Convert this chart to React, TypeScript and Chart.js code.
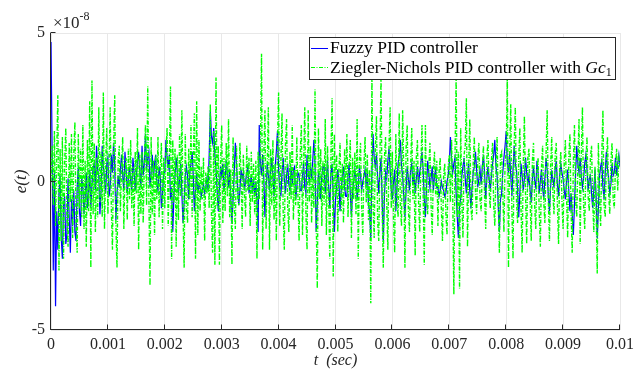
import React, { useEffect, useRef } from 'react';
import { Chart, registerables } from 'chart.js';

Chart.register(...registerables);

// sample spacing of the two error signals (seconds)
const fuzzyStep = 2e-5;
const znStep = 2e-5;

// e(t) of the fuzzy PID controller, in units of 1e-8
const fuzzyPid: number[] = [
  4.7, 1.0, -3.0, 0.3, -4.2, -1.0, -2.3, -0.4, 0.2, -1.9, -2.6, -0.8, -0.5, -2.1, -1.8, 0.1, -1.2, -2.4, -0.6, -1.5,
  -0.3, -1.7, -2.0, -0.2, 0.5, -1.0, -1.5, 0.1, -0.2, -1.1, -0.6, 0.3, -0.9, -0.4, 0.4, -0.9, -0.1, 0.5, 0.6, -0.3,
  1.2, 0.4, 0.2, -1.1, -0.3, 1.2, 0.5, 0.1, -0.4, 0.6, 0.8, -0.5, -0.2, 0.9, 0.3, 1.3, 0.6, -1.3, -0.4, 0.2,
  -0.2, 0.4, 0.9, 0.2, -0.3, 1.0, 0.4, -0.4, 0.1, 0.5, 0.0, -0.3, 0.8, 0.3, -0.3, 0.2, 0.7, 1.0, 0.3, -0.2,
  1.2, 0.2, 0.6, 1.6, 0.4, 0.8, 1.0, -0.2, 0.3, 0.9, 0.1, 0.6, 0.9, -0.1, -0.3, 0.5, 0.2, -0.9, -0.4, 0.3,
  0.3, 1.4, 0.8, 0.5, 0.9, -0.6, -0.2, -1.7, -0.5, 0.2, 0.8, 0.3, -0.4, 0.1, 0.6, -0.4, -1.4, -0.7, 0.2, 0.5,
  0.2, -0.6, 0.3, 0.6, 1.0, 0.2, -1.0, -0.3, 0.3, -0.4, -0.1, -0.2, -0.5, -0.3, -0.1, -0.4, -0.2, 0.1, -0.3, 0.9,
  2.4, 1.5, 1.3, 1.8, 0.9, 0.4, -0.3, -1.0, -0.2, 0.5, 0.2, 0.6, -0.3, 0.1, 0.7, 0.3, -0.2, 0.4, -0.6, -1.4,
  -0.6, 0.3, 1.3, 0.6, -0.2, -0.8, -0.3, 0.4, 0.1, 0.3, -0.3, 0.0, 0.3, 0.5, -0.4, -0.1, 0.2, -0.4, 0.1, -0.5,
  0.0, -0.7, -1.7, 1.9, 0.6, 0.2, 0.9, 0.1, -1.2, -0.3, 0.6, 0.2, -0.3, 0.4, 0.8, 0.2, -0.5, 0.5, 1.0, 1.7,
  0.4, -0.2, -0.5, 0.3, 0.8, 0.1, -0.4, 0.2, 0.6, -0.1, -0.3, 0.5, -0.1, 0.4, 0.5, -0.6, -0.2, 0.3, 0.2, -0.3,
  -0.3, 0.2, 0.6, -0.2, -0.4, 0.9, 0.3, 0.0, 0.5, 0.1, 0.7, 1.4, 0.6, -1.7, -0.8, 0.3, 0.0, -0.6, 0.2, 0.5,
  0.5, -0.4, 0.1, 0.7, -0.2, -0.9, 0.3, 0.6, -0.5, -1.7, -0.6, -0.2, 0.4, 0.0, -1.0, -0.3, 0.2, 0.5, -0.2, -0.5,
  -0.5, 0.2, 0.6, -0.4, -1.2, -0.3, 0.0, 0.4, 0.1, -0.6, -0.2, 0.5, 0.2, -0.3, 0.0, 0.2, 0.4, -0.2, 0.4, -0.8,
  -1.0, -1.9, 0.3, 1.6, 0.8, 0.5, 0.9, 0.2, -0.4, 0.3, 0.8, -0.6, -2.0, -0.5, 0.3, 0.1, 0.7, 1.1, 0.4, -0.3,
  -0.6, 0.0, 0.4, -1.0, -0.2, 0.6, 0.9, 1.4, 0.5, 0.2, -0.5, -1.2, -0.3, 0.5, 0.1, -0.3, 0.4, 0.6, -0.1, 0.3,
  -0.4, 0.1, 0.5, -0.1, 0.3, 0.6, 1.0, 0.4, -0.6, -1.2, -0.2, 0.7, 0.3, -0.2, 0.1, 0.5, -0.3, 0.2, 0.4, -0.2,
  -0.2, -0.5, -0.3, 0.0, -0.2, -0.3, -0.5, -0.4, 0.0, 0.2, 0.6, 1.5, 0.8, 0.3, 0.6, 0.8, -0.4, -1.2, -1.9, -0.8,
  -0.6, 0.2, 0.5, 0.8, 0.1, -0.4, 0.2, 0.6, -0.3, -0.9, -0.2, 0.3, 0.5, 1.0, 0.4, -0.2, 0.1, 0.4, -0.1, 0.5,
  0.9, 0.3, -0.6, 0.1, 0.5, 0.1, -0.3, 0.2, 0.6, 0.9, 1.4, 0.5, 0.2, -0.8, -1.7, -0.6, -0.4, 0.3, 0.8, 1.2,
  1.7, 0.6, 0.3, 0.9, 0.2, -0.5, 0.4, 1.2, 0.6, 0.4, -0.3, -1.2, -0.4, 0.6, 0.2, -0.3, 0.1, 0.8, 0.3, -0.1,
  0.2, -0.3, -0.7, 0.1, 0.5, 0.0, -0.2, 0.7, 0.3, -0.4, 0.0, 0.4, -0.2, -0.6, 0.1, 0.8, 0.4, -0.5, -1.0, -0.2,
  0.3, 0.1, -0.2, 0.4, 0.7, -0.1, -0.5, 0.2, 0.6, 0.3, 0.1, -0.3, -0.6, 0.0, 0.4, -0.3, -1.0, -0.4, -1.1, -1.8,
  -0.8, 0.3, 1.2, 0.6, 0.3, 0.8, 0.2, -0.2, 0.1, 0.6, 0.9, 0.4, -0.3, 0.1, 0.2, -0.4, -0.9, -0.3, 0.4, -0.5,
  -1.9, -0.9, 0.2, 0.5, 0.7, -0.2, -0.6, 0.3, 1.0, 0.4, 0.1, -0.4, -0.1, 0.6, 0.2, 0.3, 0.8, 0.2, 0.6, 0.9, 0.5,
];

// e(t) of the Ziegler-Nichols PID controller with Gc1, in units of 1e-8
const zieglerNichols: number[] = [
  0, 1.2, -0.8, 1.7, -1.5, 0.9, 2.9, -3.0, 1.1, -2.0, 1.5, -2.6, 0.6, 1.8, -1.2, -2.2, 1.3, -0.7, 1.6, -1.9,
  0.9, 2.0, -1.4, -2.4, 1.6, -0.9, 1.1, -1.2, 1.9, -1.6, 0.7, -2.2, 1.4, -1.0, 2.7, -2.9, 3.4, -1.1, 1.3, -1.7,
  0.8, -1.2, 2.5, -0.7, 1.0, -1.2, 3.0, -1.6, 0.6, 1.8, -1.1, 0.5, 2.5, -0.9, -2.3, 1.2, 2.9, -1.4, -2.9, 0.7,
  1.2, -1.0, 0.4, 1.5, -1.6, 0.3, 0.8, -1.3, 1.1, -0.6, 1.4, -0.9, 0.5, -1.5, 1.0, -0.4, 1.8, -2.3, 0.9, -1.1,
  1.0, -1.4, 0.6, 1.9, -0.8, 3.2, -0.5, -3.5, 1.5, -1.1, 0.7, -1.8, 0.9, -0.6, 1.5, -1.2, 0.4, 1.3, -1.6, 0.8,
  -0.9, 1.0, 1.8, -1.5, 0.6, 3.2, -2.6, 1.4, -0.7, 1.1, -2.2, 0.9, -1.3, 1.6, -0.5, 2.4, -1.0, -2.9, 1.6, -0.8,
  -1.4, 1.1, -0.6, 1.9, -1.2, 0.8, 2.3, -2.6, 2.7, -1.8, 1.4, -1.0, 0.5, -0.6, 0.8, -2.0, 0.3, -0.4, 0.5, -0.9,
  2.6, -1.1, -2.4, 1.7, -2.8, 3.5, -0.9, 1.2, -2.8, 0.6, 1.9, -1.4, 0.8, -1.0, 1.3, -0.5, 2.1, -1.2, 0.4, -2.8,
  1.5, -0.8, -1.6, 1.2, -0.5, -0.8, 1.3, 0.2, -1.6, 0.9, -0.4, -1.2, 1.2, -0.3, 0.8, -1.5, 1.0, -0.7, 0.6, -1.1,
  0.7, -2.6, 1.0, -0.6, 1.2, 4.3, -2.3, 0.9, 2.4, -1.6, 0.5, 2.5, -2.3, 1.1, -0.8, 1.4, -1.3, 0.6, -2.0, 1.2,
  3.0, -1.5, 0.7, 2.3, -1.0, -2.3, 1.2, 2.1, -0.9, -1.7, 1.0, -0.6, 1.9, -1.3, 0.4, -0.8, 1.5, -0.5, -2.0, 0.9,
  1.9, -1.8, 0.6, 2.5, -1.1, -2.3, 2.4, -0.7, 1.2, -1.4, 0.5, -0.9, 3.1, -1.2, -3.6, 1.8, -0.6, 1.1, -1.5, 0.7,
  -0.8, 2.1, -1.8, 1.2, -0.6, -2.6, 1.0, 2.8, -3.2, 1.6, -0.5, 0.9, -1.7, 0.4, 1.3, -1.0, 0.6, -1.4, 1.1, -0.3,
  1.6, -1.2, 0.5, 1.4, -1.9, 0.8, -0.6, 1.0, -1.1, 2.1, -2.6, 0.7, 1.3, -0.9, -1.8, 0.6, 1.5, -0.7, 0.9, -1.3,
  0.4, -4.1, 3.6, -0.8, -1.9, 1.1, 2.2, -1.3, -2.0, 0.6, 3.6, -1.0, -2.9, 0.8, 1.5, -0.7, -2.3, 1.2, 2.5, -0.9,
  1.0, -1.3, -2.4, 1.6, -0.6, -1.2, 2.3, -0.8, -1.5, 2.4, 0.3, -2.9, 1.1, 1.9, -0.9, -1.7, 0.5, 1.8, -0.6, 0.7,
  -2.5, 0.8, 1.4, -0.7, -1.7, 0.6, 1.9, -0.4, -2.8, 1.9, -0.6, -1.1, 0.5, 1.3, -0.8, -1.8, 0.4, 1.0, -0.5, 0.7,
  -1.5, 0.3, 0.8, -0.9, -2.0, 0.2, 0.6, -1.1, -1.8, 0.5, 0.9, -0.7, 1.4, -0.5, -3.8, 0.8, 3.5, -1.2, 1.0, -3.6,
  1.8, -0.7, -1.9, 0.9, 1.2, 2.8, -2.2, 0.5, 2.1, -0.9, -1.3, 0.6, 1.5, -0.4, -1.1, 0.7, 1.3, -0.6, -1.0, 0.4,
  1.2, -0.5, -1.6, 0.8, 1.4, -0.3, -0.9, 0.7, 1.3, -0.8, -1.5, 0.4, 1.5, -0.6, -2.4, 0.9, 1.0, -0.4, -1.7, 0.6,
  1.0, 3.5, -2.9, 0.9, 2.6, -1.0, -2.6, 1.2, 2.5, -0.6, -1.4, 0.8, 1.8, -0.9, -2.4, 0.6, 2.2, -0.5, -2.1, 0.8,
  1.1, -0.6, -2.0, 0.7, 1.3, -0.8, -1.6, 0.4, 0.8, -1.0, -2.2, 0.5, 1.2, -0.7, -1.4, 0.9, 2.4, -0.6, -2.0, 0.5,
  1.5, -0.4, -1.1, 0.9, 1.3, -0.8, -2.1, 0.5, 1.0, -0.7, -1.6, 0.6, 1.4, -0.5, -1.9, 0.8, 1.6, -1.0, -2.4, 0.6,
  1.9, -0.6, -1.2, 0.7, 2.1, -2.1, 0.9, 2.5, -0.8, -1.6, 0.6, 1.5, -0.5, -1.0, 0.8, 1.2, -0.7, -1.7, 0.5, -0.9,
  -3.1, 1.3, -0.5, -1.5, 0.9, 2.4, -0.8, -1.2, 0.6, 1.5, -0.4, -1.1, 0.7, 1.3, -0.6, -0.9, 0.5, 1.1, -0.3, 0.8, 0.6,
];

const xTicks = [0, 0.001, 0.002, 0.003, 0.004, 0.005, 0.006, 0.007, 0.008, 0.009, 0.01];
const xTickLabels = ['0', '0.001', '0.002', '0.003', '0.004', '0.005', '0.006', '0.007', '0.008', '0.009', '0.01'];
const yTicks = [-5, 0, 5];
const yTickLabels = ['-5', '0', '5'];
const yExponent = '-8';
const seriesNames = ['Fuzzy PID controller', 'Ziegler-Nichols PID controller with '];

const SERIF = '"Liberation Serif", "Times New Roman", serif';
const AXIS_COLOR = '#262626';
const BLUE = '#0000ff';
const GREEN = '#00ff00';
const GREEN_DASH = [4, 1.5, 1, 1.5];

const toPoints = (vals: number[], step: number) => vals.map((v, i) => ({ x: i * step, y: v }));

const overlayPlugin = {
  id: 'matlabOverlay',
  afterDraw(chart: any) {
    const { ctx, chartArea: a, scales } = chart;
    const xs = scales.x;
    const ys = scales.y;
    ctx.save();

    // axis lines
    ctx.strokeStyle = AXIS_COLOR;
    ctx.lineWidth = 1;
    ctx.setLineDash([]);
    ctx.beginPath();
    const lx = Math.round(a.left) - 0.5;
    const by = Math.round(a.bottom) - 0.5;
    ctx.moveTo(lx, Math.round(a.top));
    ctx.lineTo(lx, by);
    ctx.lineTo(Math.round(a.right), by);
    // inward tick marks
    xTicks.forEach((v) => {
      const px = Math.round(xs.getPixelForValue(v)) - 0.5;
      ctx.moveTo(px, by);
      ctx.lineTo(px, by - 5);
    });
    yTicks.forEach((v) => {
      const py = Math.round(ys.getPixelForValue(v)) - 0.5;
      ctx.moveTo(lx, py);
      ctx.lineTo(lx + 5, py);
    });
    ctx.stroke();

    // exponent label
    ctx.fillStyle = AXIS_COLOR;
    ctx.textAlign = 'left';
    ctx.textBaseline = 'alphabetic';
    ctx.font = `17px ${SERIF}`;
    const ex0 = a.left + 2;
    ctx.fillText('\u00d710', ex0, 28);
    const w10 = ctx.measureText('\u00d710').width;
    ctx.font = `12px ${SERIF}`;
    ctx.fillText(yExponent, ex0 + w10, 20);

    // x axis title: t (sec)
    ctx.font = `italic 16px ${SERIF}`;
    const wt = ctx.measureText('t').width;
    const ws = ctx.measureText('(sec)').width;
    const gap = 8;
    const cx = (a.left + a.right) / 2;
    const sx = cx - (wt + gap + ws) / 2;
    ctx.fillText('t', sx, 365);
    ctx.fillText('(sec)', sx + wt + gap, 365);

    // y axis title: e(t)
    ctx.save();
    ctx.translate(25.5, (a.top + a.bottom) / 2);
    ctx.rotate(-Math.PI / 2);
    ctx.textAlign = 'center';
    ctx.font = `italic 17px ${SERIF}`;
    ctx.fillText('e(t)', 0, 0);
    ctx.restore();

    // legend
    const LF = 17.5;
    ctx.font = `${LF}px ${SERIF}`;
    const w1 = ctx.measureText(seriesNames[0]).width;
    const w2a = ctx.measureText(seriesNames[1]).width;
    ctx.font = `italic ${LF}px ${SERIF}`;
    const wGc = ctx.measureText('Gc').width;
    ctx.font = `12px ${SERIF}`;
    const wSub = ctx.measureText('1').width;
    const w2 = w2a + wGc + wSub;
    const textW = Math.max(w1, w2);
    const boxRight = Math.round(a.right) - 5;
    const boxLeft = Math.round(boxRight - (textW + 21 + 3));
    const boxTop = Math.round(a.top) + 4;
    const boxH = 42;
    ctx.fillStyle = '#ffffff';
    ctx.fillRect(boxLeft, boxTop, boxRight - boxLeft, boxH);
    ctx.strokeStyle = AXIS_COLOR;
    ctx.lineWidth = 1;
    ctx.strokeRect(boxLeft + 0.5, boxTop + 0.5, boxRight - boxLeft, boxH);

    const row1 = boxTop + 11.5;
    const row2 = boxTop + 30.5;
    ctx.beginPath();
    ctx.strokeStyle = BLUE;
    ctx.moveTo(boxLeft + 2, row1);
    ctx.lineTo(boxLeft + 19, row1);
    ctx.stroke();
    ctx.beginPath();
    ctx.strokeStyle = GREEN;
    ctx.setLineDash(GREEN_DASH);
    ctx.moveTo(boxLeft + 2, row2);
    ctx.lineTo(boxLeft + 19, row2);
    ctx.stroke();
    ctx.setLineDash([]);

    const tx = boxLeft + 21;
    ctx.fillStyle = '#000000';
    ctx.font = `${LF}px ${SERIF}`;
    ctx.fillText(seriesNames[0], tx, boxTop + 16);
    ctx.fillText(seriesNames[1], tx, boxTop + 35.5);
    ctx.font = `italic ${LF}px ${SERIF}`;
    ctx.fillText('Gc', tx + w2a, boxTop + 35.5);
    ctx.font = `12px ${SERIF}`;
    ctx.fillText('1', tx + w2a + wGc, boxTop + 38.5);

    ctx.restore();
  },
};

export default function App() {
  const canvasRef = useRef<HTMLCanvasElement | null>(null);

  useEffect(() => {
    document.body.style.margin = '0';
    const canvas = canvasRef.current;
    if (!canvas) return;
    const chart = new Chart(canvas, {
      type: 'line',
      data: {
        datasets: [
          {
            label: 'Ziegler-Nichols PID controller with Gc1',
            data: toPoints(zieglerNichols, znStep),
            borderColor: GREEN,
            borderWidth: 1.4,
            borderDash: GREEN_DASH,
            pointRadius: 0,
            tension: 0,
            fill: false,
          },
          {
            label: 'Fuzzy PID controller',
            data: toPoints(fuzzyPid, fuzzyStep),
            borderColor: BLUE,
            borderWidth: 1.2,
            pointRadius: 0,
            tension: 0,
            fill: false,
          },
        ],
      },
      options: {
        responsive: false,
        animation: false,
        devicePixelRatio: 1,
        layout: { padding: { top: 33, right: 22, left: 0, bottom: 0 } },
        plugins: {
          legend: { display: false },
          tooltip: { enabled: false },
          title: { display: false },
        },
        scales: {
          x: {
            type: 'linear',
            min: 0,
            max: 0.01,
            afterFit: (s: any) => {
              s.height = 43;
            },
            afterBuildTicks: (s: any) => {
              s.ticks = xTicks.map((v) => ({ value: v }));
            },
            ticks: {
              autoSkip: false,
              maxRotation: 0,
              minRotation: 0,
              padding: 5,
              color: AXIS_COLOR,
              font: { family: SERIF, size: 16 },
              callback: (_v: any, i: number) => xTickLabels[i],
            },
            grid: { color: '#e8e8e8', lineWidth: 1, drawTicks: false },
            border: { display: false },
          },
          y: {
            type: 'linear',
            min: -5,
            max: 5,
            afterFit: (s: any) => {
              s.width = 51;
            },
            afterBuildTicks: (s: any) => {
              s.ticks = yTicks.map((v) => ({ value: v }));
            },
            ticks: {
              padding: 6,
              color: AXIS_COLOR,
              font: { family: SERIF, size: 16 },
              callback: (_v: any, i: number) => yTickLabels[i],
            },
            grid: { color: '#e8e8e8', lineWidth: 1, drawTicks: false },
            border: { display: false },
          },
        },
      },
      plugins: [overlayPlugin],
    });
    return () => chart.destroy();
  }, []);

  return <canvas ref={canvasRef} width={642} height={373} style={{ display: 'block' }} />;
}
